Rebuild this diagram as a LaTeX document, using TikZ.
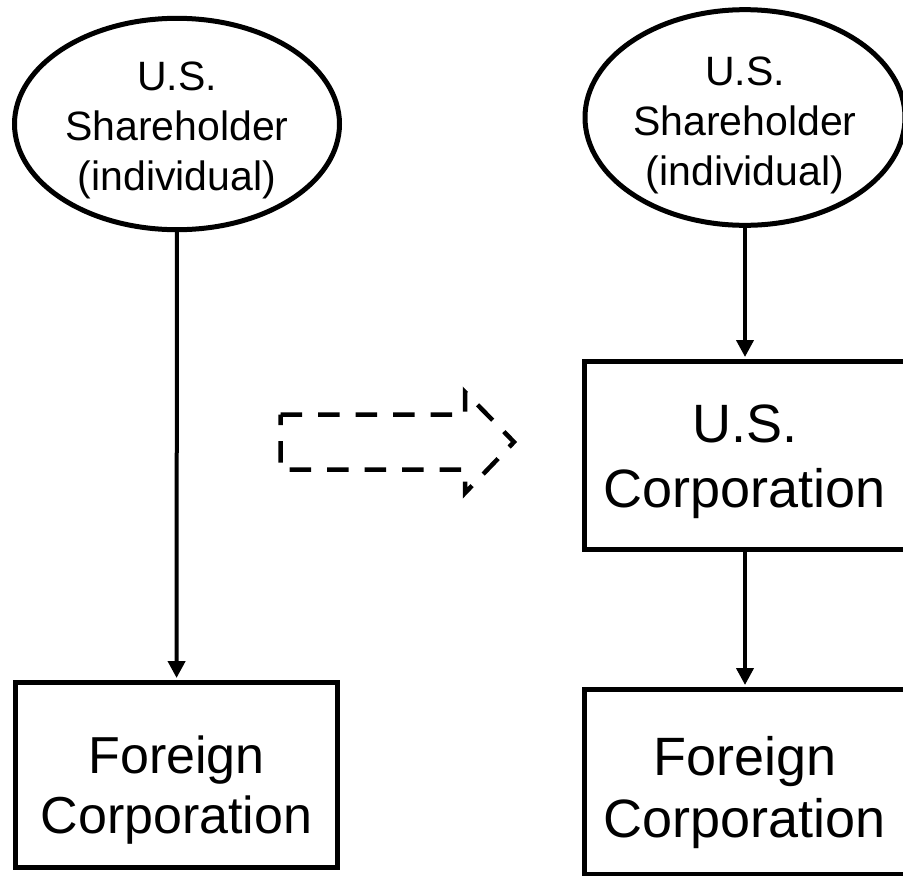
\documentclass[tikz,border=0pt]{standalone}
\usepackage{fontspec}
\setmainfont{Liberation Sans}
\usepackage{tikz}
\usetikzlibrary{shapes.geometric,arrows.meta}

\begin{document}
\begin{tikzpicture}[x=1pt, y=-1pt,
  holder/.style={shape=ellipse, draw, line width=5pt, inner sep=0pt, align=center,
    font=\fontsize{41}{50}\selectfont},
  corp/.style={shape=rectangle, draw, line width=5pt, inner sep=0pt, align=center,
    minimum width=322pt, minimum height=185pt, font=\fontsize{52}{60}\selectfont},
  own/.style={-{Triangle[length=17pt,width=17pt]}, line width=4pt, shorten >=2pt}]
\clip (0,0) rectangle (903,876);

\node (1) at (177,124) [holder, minimum width=325pt, minimum height=207pt, text height=141pt] {U.S.\\Shareholder\\(individual)};
\node (2) at (176.5,775) [corp, text height=127pt] {Foreign\\Corporation};
\node (3) at (745,117.5) [holder, minimum width=320pt, minimum height=204pt, text height=144pt] {U.S.\\Shareholder\\(individual)};
\node (4) at (745,455.5) [corp, minimum height=188pt, text height=115pt, font=\fontsize{54}{65}\selectfont] {U.S.\\Corporation};
\node (5) at (745,782) [corp, text height=123pt, font=\fontsize{54}{62}\selectfont] {Foreign\\Corporation};

\path [own] (1)edge (2);
\path [own] (3)edge (4);
\path [own] (4)edge (5);

% the dashed block arrow between the two sides
\draw [line width=4.5pt, dash pattern=on 21.5pt off 16pt]
  (280.5,414.5) -- (465,414.5) -- (465,392) -- (514,442) -- (465,493) -- (465,469.5) -- (280.5,469.5) -- cycle;

\end{tikzpicture}
\end{document}
